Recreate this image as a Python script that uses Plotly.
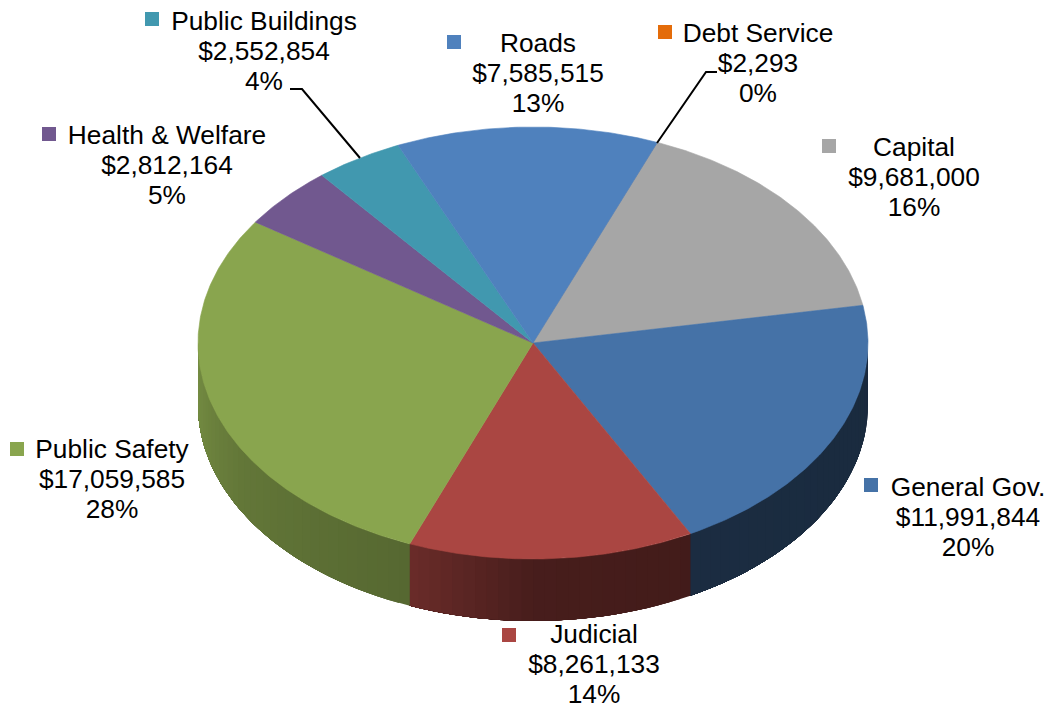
import numpy as np
import plotly.graph_objects as go

# Budget categories, clockwise from the first slice
categories = ["Debt Service", "Capital", "General Gov.", "Judicial",
              "Public Safety", "Health & Welfare", "Public Buildings", "Roads"]
amounts = [2293, 9681000, 11991844, 8261133, 17059585, 2812164, 2552854, 7585515]

slice_rgb = [(228, 108, 10), (166, 166, 166), (69, 114, 167), (170, 70, 66),
             (137, 165, 78), (113, 88, 143), (65, 152, 175), (79, 129, 189)]

# Label placement per category: centre x, then y of the three text rows
label_x = [758, 914, 968, 594, 112, 167, 264, 538]
label_y = [35, 149, 489, 636, 451, 137, 23, 45]
key_pos = [(665, 32), (829, 146), (871, 485), (509, 635),
           (17, 449), (49, 134), (152, 19), (454, 42)]
leaders = [[(717, 72), (706, 72), (657, 143)], [(290, 89), (302, 89), (360, 158)]]

# Pie geometry in page pixels
CX, CY, RX, RY, DEPTH = 533, 343, 335, 216, 62
START_ANGLE = 21.8
ROW_STEP = 30.3

# Wall brightness against the clockwise angle from twelve o'clock
shade_angle = [90, 152, 180, 202, 240, 270]
shade_level = [0.37, 0.39, 0.42, 0.63, 0.72, 0.86]


def rim(theta_deg, drop=0.0):
    t = np.radians(theta_deg)
    return CX + RX * np.sin(t), CY - RY * np.cos(t) + drop


def rgb(c, k=1.0):
    return "rgb(%d,%d,%d)" % tuple(round(v * k) for v in c)


total = sum(amounts)
sweeps = [a / total * 360 for a in amounts]
edges = START_ANGLE + np.concatenate([[0], np.cumsum(sweeps)])

fig = go.Figure()

# Outer wall: each strip runs on to the slice's far edge and the next strip
# paints over it, which leaves no hairline gaps between neighbouring strips
for i, c in enumerate(slice_rgb):
    a0, a1 = max(edges[i], 90), min(edges[i + 1], 270)
    if a1 <= a0:
        continue
    steps = np.arange(a0, a1, 2.0)
    for s0 in steps:
        th = np.linspace(s0, a1, max(2, int((a1 - s0) / 2) + 2))
        tx, ty = rim(th)
        k = float(np.interp(s0 + 1, shade_angle, shade_level))
        fig.add_trace(go.Scatter(
            x=[*tx, *tx[::-1], tx[0]],
            y=[*ty, *(ty[::-1] + DEPTH), ty[0]],
            mode="lines", fill="toself", fillcolor=rgb(c, k),
            line=dict(width=0), hoverinfo="skip", showlegend=False))

# Top face of each slice
for i, c in enumerate(slice_rgb):
    th = np.linspace(edges[i], edges[i + 1], max(3, int(sweeps[i] * 2)))
    px, py = rim(th)
    fig.add_trace(go.Scatter(
        x=[CX, *px, CX], y=[CY, *py, CY], mode="lines", fill="toself",
        fillcolor=rgb(c), line=dict(color=rgb(c), width=0.6),
        hoverinfo="text", text=categories[i], showlegend=False))

# Leader lines for the labels that sit away from their slices
for pts in leaders:
    fig.add_trace(go.Scatter(
        x=[p[0] for p in pts], y=[p[1] for p in pts], mode="lines",
        line=dict(color="#000000", width=2), hoverinfo="skip", showlegend=False))

# Colour keys beside the category names
fig.add_trace(go.Scatter(
    x=[p[0] for p in key_pos], y=[p[1] for p in key_pos], mode="markers",
    marker=dict(symbol="square", size=14, color=[rgb(c) for c in slice_rgb], line=dict(width=0)),
    hoverinfo="skip", showlegend=False))

# Three-row labels: name, amount, share
text_x, text_y, text_s = [], [], []
for i, name in enumerate(categories):
    rows = [name, "${:,}".format(amounts[i]), "{:.0f}%".format(amounts[i] / total * 100)]
    for r, row in enumerate(rows):
        text_x.append(label_x[i])
        text_y.append(label_y[i] + r * ROW_STEP)
        text_s.append(row)
fig.add_trace(go.Scatter(
    x=text_x, y=text_y, text=text_s, mode="text", textposition="middle center",
    textfont=dict(family="Liberation Sans", size=26.3, color="#000000"),
    hoverinfo="skip", showlegend=False, cliponaxis=False))

fig.update_layout(
    width=1051, height=709, margin=dict(l=0, r=0, t=0, b=0),
    paper_bgcolor="white", plot_bgcolor="white",
    xaxis=dict(range=[0, 1051], visible=False, fixedrange=True),
    yaxis=dict(range=[709, 0], visible=False, fixedrange=True),
)

fig.write_html("out.html", config=dict(displayModeBar=False))
